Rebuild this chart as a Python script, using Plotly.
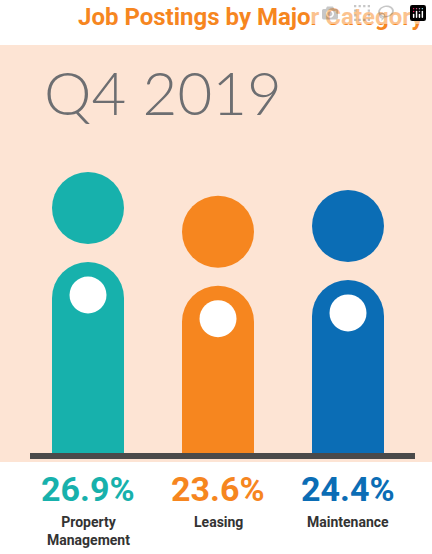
import plotly.graph_objects as go

categories = ["Property<br>Management", "Leasing", "Maintenance"]
values = [26.9, 23.6, 24.4]
pct_labels = ["26.9%", "23.6%", "24.4%"]
colors = ["#17B1AC", "#F6861F", "#0B6DB5"]

W, H = 432, 554
bottom_px, top_px = 455, 45
unit_px = 193 / values[0]
ymax = (bottom_px - top_px) / unit_px
xs = list(range(len(values)))

fig = go.Figure()
fig.add_trace(go.Bar(x=xs, y=values, marker=dict(color=colors, cornerradius="50%", line_width=0),
                     width=72/130, hoverinfo="skip"))
fig.add_trace(go.Scatter(x=xs, y=[v + 54/unit_px for v in values], mode="markers",
                         marker=dict(size=72, color=colors, line_width=0), hoverinfo="skip"))
fig.add_trace(go.Scatter(x=xs, y=[v - 33/unit_px for v in values], mode="markers",
                         marker=dict(size=37, color="white", line_width=0), hoverinfo="skip"))

fig.add_shape(type="rect", xref="paper", yref="paper", x0=0, x1=1, y0=(H-462)/H, y1=(H-45)/H,
              fillcolor="#FDE4D4", line_width=0, layer="below")
fig.add_shape(type="line", xref="paper", yref="paper", x0=30/W, x1=415/W,
              y0=(H-456)/H, y1=(H-456)/H, line=dict(color="#4A4A4A", width=6))

fig.add_annotation(text="<b>Job Postings by Major Category</b>", xref="paper", yref="paper",
                   x=426/W, y=(H-17)/H, xanchor="right", yanchor="middle", showarrow=False,
                   font=dict(family="Roboto", size=24, color="#F6861F"))
fig.add_annotation(text="Q4 2019", xref="paper", yref="paper", x=42/W, y=(H-92)/H,
                   xanchor="left", yanchor="middle", showarrow=False,
                   font=dict(family="Lato", size=60, color="#6D6E71", weight=300))
for i, (c, p, col) in enumerate(zip(categories, pct_labels, colors)):
    fig.add_annotation(text=f"<b>{p}</b>", x=i, xref="x", yref="paper", y=(H-489)/H,
                       yanchor="middle", showarrow=False,
                       font=dict(family="Roboto", size=34, color=col))
    fig.add_annotation(text=f"<b>{c}</b>", x=i, xref="x", yref="paper", y=(H-512)/H,
                       yanchor="top", showarrow=False,
                       font=dict(family="Roboto", size=14, color="#333333"))

fig.update_layout(width=W, height=H, margin=dict(l=0, r=0, t=0, b=0),
                  paper_bgcolor="white", plot_bgcolor="rgba(0,0,0,0)", showlegend=False,
                  xaxis=dict(range=[-88/130, (W-88)/130], visible=False, fixedrange=True),
                  yaxis=dict(range=[0, ymax], domain=[(H-bottom_px)/H, (H-top_px)/H],
                             visible=False, fixedrange=True))
fig.write_html("out.html", post_script="document.body.style.margin='0';document.body.style.overflow='hidden';")
